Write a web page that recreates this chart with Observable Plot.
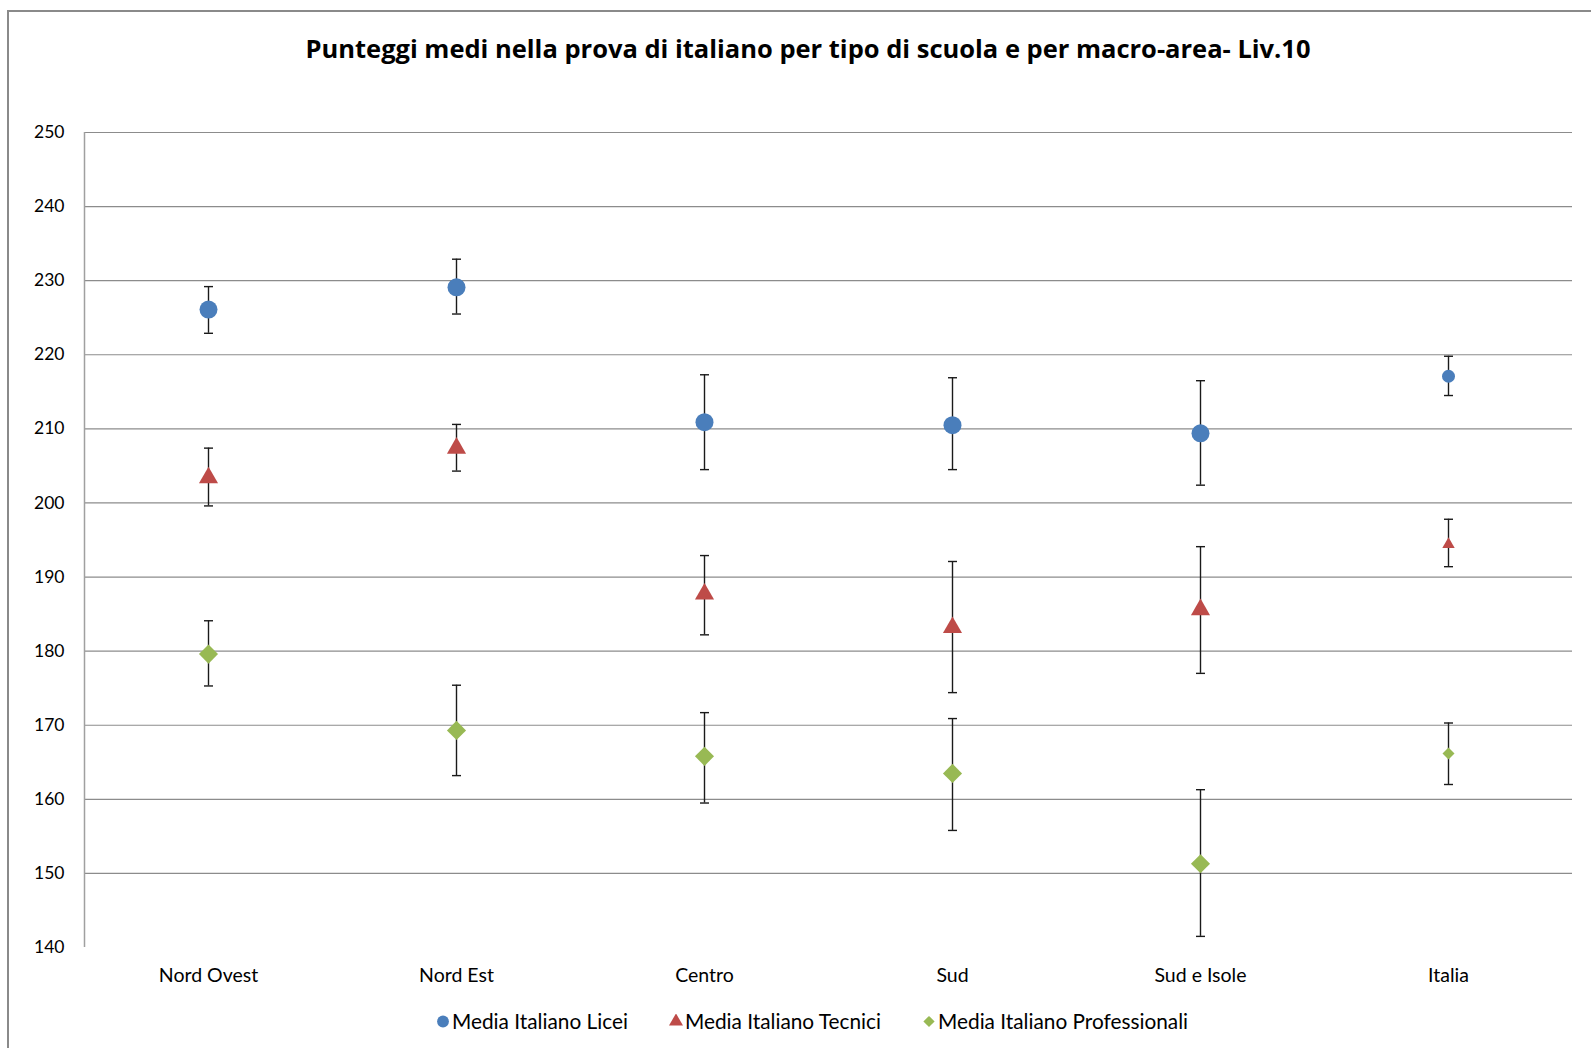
<!DOCTYPE html>
<html>
<head>
<meta charset="utf-8">
<script src="https://cdn.jsdelivr.net/npm/d3@7"></script>
<script src="https://cdn.jsdelivr.net/npm/@observablehq/plot@0.6"></script>
<style>
  html, body { margin: 0; padding: 0; background: #fff; width: 1591px; height: 1048px; overflow: hidden; font-family: Lato, "Liberation Sans", sans-serif; }
  #frame { position: absolute; left: 7px; top: 10px; width: 1700px; height: 1100px; border-left: 2px solid #8a8a8a; border-top: 2px solid #8a8a8a; }
  #title { position: absolute; top: 32px; left: 0; width: 1616px; text-align: center; font-family: "Open Sans", Lato, sans-serif; font-weight: bold; font-size: 25.5px; line-height: 32px; color: #000; }
  #chart { position: absolute; left: 0; top: 100px; }
  #legend { position: absolute; top: 1008px; left: 436px; display: flex; align-items: center; font-size: 20.8px; color: #000; white-space: nowrap; }
  .item { display: flex; align-items: center; margin-right: 41px; }
  .item svg { margin-right: 2px; }
</style>
</head>
<body>
<div id="frame"></div>
<div id="title">Punteggi medi nella prova di italiano per tipo di scuola e per macro-area- Liv.10</div>
<div id="chart"></div>
<div id="legend"></div>
<script>
const categories = ["Nord Ovest", "Nord Est", "Centro", "Sud", "Sud e Isole", "Italia"];
const seriesNames = ["Media Italiano Licei", "Media Italiano Tecnici", "Media Italiano Professionali"];

const liceiMean = [226.1, 229.1, 210.9, 210.5, 209.4, 217.1];
const liceiLow  = [222.9, 225.5, 204.5, 204.5, 202.4, 214.5];
const liceiHigh = [229.2, 232.9, 217.3, 216.9, 216.5, 219.8];

const tecniciMean = [203.4, 207.4, 187.7, 183.2, 185.6, 194.4];
const tecniciLow  = [199.6, 204.3, 182.2, 174.4, 177.0, 191.4];
const tecniciHigh = [207.4, 210.6, 192.9, 192.1, 194.1, 197.8];

const profMean = [179.6, 169.3, 165.8, 163.5, 151.3, 166.2];
const profLow  = [175.3, 163.2, 159.5, 155.8, 141.5, 162.0];
const profHigh = [184.1, 175.4, 171.7, 170.9, 161.3, 170.3];

const yTicks = [140, 150, 160, 170, 180, 190, 200, 210, 220, 230, 240, 250];
const gridValues = [150, 160, 170, 180, 190, 200, 210, 220, 230, 240, 250];

const colors = ["#4a7ebb", "#be4b48", "#98b954"];
const symbols = ["circle", "triangle", "diamond2"];

const means = [liceiMean, tecniciMean, profMean];
const lows = [liceiLow, tecniciLow, profLow];
const highs = [liceiHigh, tecniciHigh, profHigh];

const rows = [];
seriesNames.forEach((s, si) => {
  categories.forEach((c, ci) => {
    rows.push({series: s, si, cat: c, mean: means[si][ci], low: lows[si][ci], high: highs[si][ci]});
  });
});

// marker sizes (Plot r) — smaller for "Italia"
const bigR = [9, 7.1, 8.6];
const smallR = [6.5, 4.6, 5.4];
const rOf = d => d.cat === "Italia" ? smallR[d.si] : bigR[d.si];

const capSymbol = { draw(ctx) { ctx.moveTo(-4.5, 0); ctx.lineTo(4.5, 0); } };

const W = 1591, H = 900, mL = 84, mR = 19, mT = 32, mB = 53;
const bandW = (W - mL - mR) / categories.length;

const plot = Plot.plot({
  width: W,
  height: H,
  marginLeft: mL,
  marginRight: mR,
  marginTop: mT,
  marginBottom: mB,
  style: { fontFamily: "Lato, 'Liberation Sans', sans-serif", fontSize: "19px", color: "#000", background: "transparent" },
  x: { type: "band", domain: categories, padding: 0, label: null },
  y: { domain: [140, 250], label: null },
  r: { type: "identity" },
  marks: [
    Plot.ruleY(gridValues, { stroke: "#8c8c8c", strokeWidth: 1.2 }),
    Plot.ruleX([categories[0]], { y1: 140, y2: 250, dx: -bandW / 2, stroke: "#a0a0a0", strokeWidth: 1.5 }),
    Plot.axisY({ ticks: yTicks, tickSize: 0, tickPadding: 20, fontSize: 17.5, label: null }),
    Plot.axisX({ tickSize: 0, tickPadding: 21, fontSize: 19.5, label: null }),
    Plot.ruleX(rows, { x: "cat", y1: "low", y2: "high", stroke: "#1a1a1a", strokeWidth: 1.4 }),
    Plot.dot(rows, { x: "cat", y: "low", symbol: () => capSymbol, stroke: "#1a1a1a", strokeWidth: 1.4, fill: "none", r: 5 }),
    Plot.dot(rows, { x: "cat", y: "high", symbol: () => capSymbol, stroke: "#1a1a1a", strokeWidth: 1.4, fill: "none", r: 5 }),
    Plot.dot(rows, { x: "cat", y: "mean", symbol: d => symbols[d.si], fill: d => colors[d.si], r: rOf, stroke: "none" })
  ]
});
document.getElementById("chart").appendChild(plot);

// Legend
const legend = d3.select("#legend");
seriesNames.forEach((s, i) => {
  const item = legend.append("div").attr("class", "item");
  const svg = item.append("svg").attr("width", 14).attr("height", 14);
  const sym = d3.symbol().type([d3.symbolCircle, d3.symbolTriangle, d3.symbolDiamond2][i]).size([110, 85, 80][i]);
  svg.append("path").attr("d", sym()).attr("transform", "translate(7,7.5)").attr("fill", colors[i]);
  item.append("span").text(s);
});
</script>
</body>
</html>
